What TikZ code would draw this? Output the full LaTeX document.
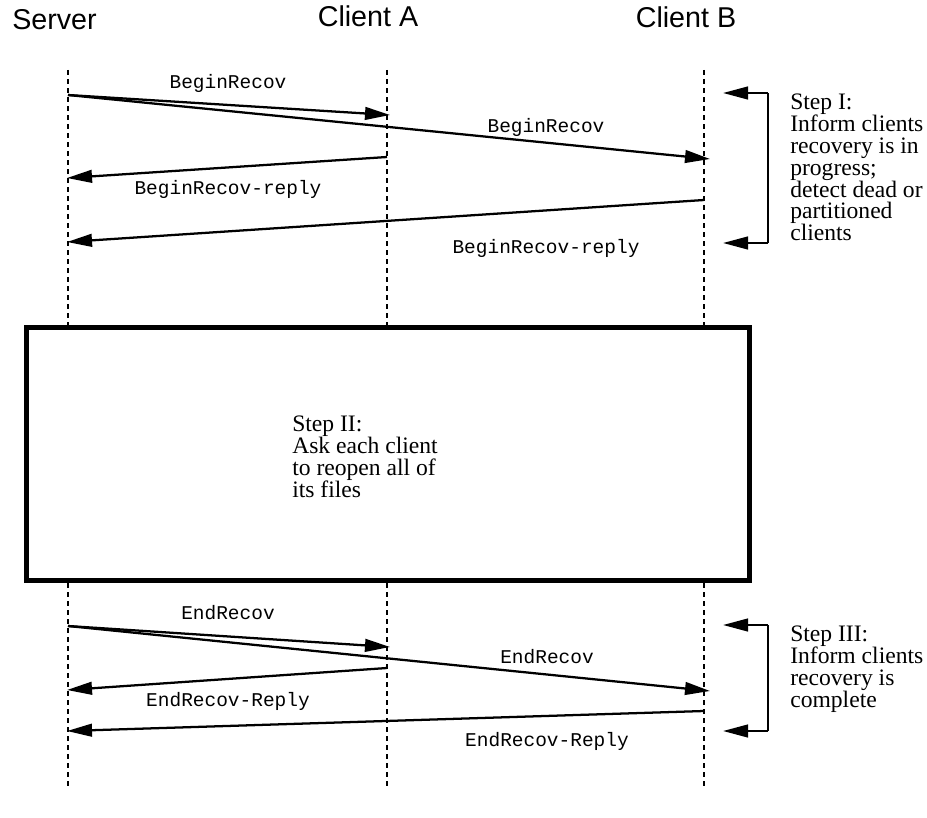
\documentclass[tikz,border=0pt]{standalone}
\usepackage{fontspec}
\setmainfont{Liberation Serif}
\setsansfont{Liberation Sans}
\setmonofont{Liberation Mono}
\usetikzlibrary{arrows.meta}
\newcommand\hdfnt{\fontsize{21.5}{24}\selectfont\sffamily}
\newcommand\lblfnt{\fontsize{14.6}{16}\selectfont\ttfamily}
\newcommand\stepfnt{\fontsize{17.7}{16.35}\selectfont\rmfamily}
\tikzset{
  msg/.style={line width=1.7pt, -{Triangle[length=18.75pt,width=9.5pt]}},
  lifeline/.style={line width=1.9pt, dash pattern=on 3.75pt off 3pt},
  bracketline/.style={line width=1.7pt},
  lbl/.style={font=\lblfnt, anchor=base, inner sep=0pt},
  head/.style={font=\hdfnt, anchor=base, inner sep=0pt},
  steptext/.style={font=\stepfnt, align=left, anchor=north west, inner sep=0pt},
  stepbox/.style={draw, line width=3.75pt, fill=white, minimum width=542.25pt, minimum height=189.75pt, inner sep=0pt}
}
\begin{document}
\begin{tikzpicture}[x=0.75pt, y=-0.75pt]
\useasboundingbox (0,0) rectangle (927,817);
% headings
\node[head] (hS) at (54.5,30) {Server};
\node[head] (hA) at (368,27) {Client A};
\node[head] (hB) at (686,28) {Client B};
% lifelines
\coordinate (sTop) at (68,70);   \coordinate (sBot) at (68,790);
\coordinate (aTop) at (387,70);  \coordinate (aBot) at (387,790);
\coordinate (bTop) at (704,70);  \coordinate (bBot) at (704,790);
\draw[lifeline] (sTop) -- (sBot);
\draw[lifeline] (aTop) -- (aBot);
\draw[lifeline] (bTop) -- (bBot);
% box step II
\node[stepbox] (box) at (388,454) {};
\node[steptext] (t2) at (292,416) {Step II:\\Ask each client\\to reopen all of\\its files};
% top messages
\coordinate (s1) at (68,95);
\coordinate (a1) at (390,115);
\coordinate (b1) at (710,159);
\coordinate (a2) at (387,157);
\coordinate (s2) at (67,178);
\coordinate (b2) at (704,200);
\coordinate (s3) at (67,242);
\draw[msg] (s1) -- (a1);
\draw[msg] (s1) -- (b1);
\draw[msg] (a2) -- (s2);
\draw[msg] (b2) -- (s3);
\node[lbl] (l1) at (228,89) {BeginRecov};
\node[lbl] (l2) at (546,132) {BeginRecov};
\node[lbl] (l3) at (228,194) {BeginRecov-reply};
\node[lbl] (l4) at (546,253) {BeginRecov-reply};
% bottom messages
\coordinate (s4) at (68,626);
\coordinate (a3) at (390,647);
\coordinate (b3) at (710,691);
\coordinate (a4) at (387,668);
\coordinate (s5) at (67,690);
\coordinate (b4) at (704,711);
\coordinate (s6) at (67,731);
\draw[msg] (s4) -- (a3);
\draw[msg] (s4) -- (b3);
\draw[msg] (a4) -- (s5);
\draw[msg] (b4) -- (s6);
\node[lbl] (l5) at (228,619) {EndRecov};
\node[lbl] (l6) at (547,663) {EndRecov};
\node[lbl] (l7) at (228,706) {EndRecov-Reply};
\node[lbl] (l8) at (547,746) {EndRecov-Reply};
% bracket I
\coordinate (k1a) at (768,93);  \coordinate (k1at) at (723,93);
\coordinate (k1b) at (768,243); \coordinate (k1bt) at (723,243);
\draw[bracketline] (k1a) -- (k1b);
\draw[msg] (k1a) -- (k1at);
\draw[msg] (k1b) -- (k1bt);
\node[steptext] (t1) at (790,94) {Step I:\\Inform clients\\recovery is in\\progress;\\detect dead or\\partitioned\\clients};
% bracket III
\coordinate (k3a) at (768,625);  \coordinate (k3at) at (723,625);
\coordinate (k3b) at (768,731);  \coordinate (k3bt) at (723,731);
\draw[bracketline] (k3a) -- (k3b);
\draw[msg] (k3a) -- (k3at);
\draw[msg] (k3b) -- (k3bt);
\node[steptext] (t3) at (790,626) {Step III:\\Inform clients\\recovery is\\complete};
\end{tikzpicture}
\end{document}
